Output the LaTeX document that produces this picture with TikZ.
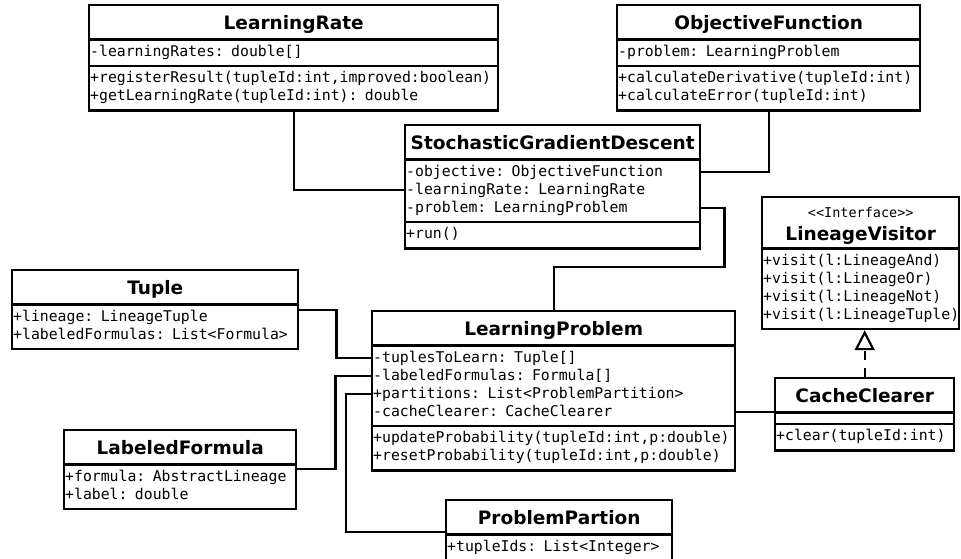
\documentclass[tikz,border=0pt]{standalone}
\usepackage{fontspec}
\setmainfont{DejaVu Sans}
\setmonofont{DejaVu Sans Mono}
\usetikzlibrary{arrows.meta,shapes.multipart,calc}
\newcommand{\membfont}{\fontsize{14.8}{18}\selectfont\ttfamily}
\newcommand{\titlefont}{\fontsize{18.5}{22}\selectfont\rmfamily\bfseries}
\newcommand{\classname}[1]{\hbox to\hsize{\hfil\rule[-6pt]{0pt}{26pt}\titlefont #1\hfil}}
\newcommand{\members}[1]{\strut#1\strut}
\tikzset{
  umlclass/.style={rectangle split,rectangle split parts=#1,draw,line width=2.4pt,
                   fill=white,anchor=north west,align=left,font=\membfont,
                   inner xsep=1pt,inner ysep=3pt},
  umlclass/.default=3,
  assoc/.style={line width=2.2pt},
  realize/.style={line width=2.2pt,dash pattern=on 9pt off 8pt,
                  -{Triangle[open,length=20pt,width=20pt]}}
}

\begin{document}
\begin{tikzpicture}[x=1pt,y=-1pt]
  \useasboundingbox (0,0) rectangle (961,559);

  \node[umlclass,text width=407pt] (rate) at (88,4)
    {\classname{LearningRate}
     \nodepart{two}\members{-learningRates: double[]}
     \nodepart{three}\members{+registerResult(tupleId:int,improved:boolean)\\+getLearningRate(tupleId:int): double}};
  \node[umlclass,text width=301pt] (objective) at (616,4)
    {\classname{ObjectiveFunction}
     \nodepart{two}\members{-problem: LearningProblem}
     \nodepart{three}\members{+calculateDerivative(tupleId:int)\\+calculateError(tupleId:int)}};
  \node[umlclass,text width=293pt] (sgd) at (404,124)
    {\classname{StochasticGradientDescent}
     \nodepart{two}\members{-objective: ObjectiveFunction\\-learningRate: LearningRate\\-problem: LearningProblem}
     \nodepart{three}\members{+run()}};
  \node[umlclass=2,text width=195pt] (visitor) at (761,196)
    {\hbox to\hsize{\hfil\rule[-3pt]{0pt}{19pt}\fontsize{13.5}{16}\selectfont <\kern0pt<Interface>\kern0pt>\hfil}\par\nointerlineskip
     \hbox to\hsize{\hfil\rule[-4pt]{0pt}{24pt}\titlefont LineageVisitor\hfil}
     \nodepart{two}\members{+visit(l:LineageAnd)\\+visit(l:LineageOr)\\+visit(l:LineageNot)\\+visit(l:LineageTuple)}};
  \node[umlclass,text width=177pt] (clearer) at (774,377)
    {\classname{CacheClearer}
     \nodepart{two}\rule{0pt}{3pt}
     \nodepart{three}\members{+clear(tupleId:int)}};
  \node[umlclass=2,text width=284pt] (tuple) at (11,269)
    {\classname{Tuple}
     \nodepart{two}\members{+lineage: LineageTuple\\+labeledFormulas: List<Formula>}};
  \node[umlclass,text width=361pt] (problem) at (371,310)
    {\classname{LearningProblem}
     \nodepart{two}\members{-tuplesToLearn: Tuple[]\\-labeledFormulas: Formula[]\\+partitions: List<ProblemPartition>\\-cacheClearer: CacheClearer}
     \nodepart{three}\members{+updateProbability(tupleId:int,p:double)\\+resetProbability(tupleId:int,p:double)}};
  \node[umlclass=2,text width=230pt] (formula) at (63,429)
    {\classname{LabeledFormula}
     \nodepart{two}\members{+formula: AbstractLineage\\+label: double}};
  \node[umlclass=2,text width=224pt] (partition) at (445,499)
    {\classname{ProblemPartion}
     \nodepart{two}\members{+tupleIds: List<Integer>}};

  % associations
  \draw[assoc] (rate.south) |- ([yshift=-30pt]sgd.one split west);
  \draw[assoc] (objective.south) |- ([yshift=-12pt]sgd.one split east);
  \draw[assoc] ([yshift=-48pt]sgd.one split east) -| ($(sgd.south east)+(23,17)$) -| (problem.north);
  \draw[assoc] ([yshift=-5pt]tuple.one split east) -- ++(37,0) |- ([yshift=-12pt]problem.one split west);
  \draw[assoc] ([yshift=-4pt]formula.one split east) -- ++(38,0) |- ([yshift=-30pt]problem.one split west);
  \draw[assoc] ([yshift=3pt]partition.one split west) -- ++(-99,0) |- ([yshift=-48pt]problem.one split west);
  \draw[assoc] ([yshift=-66pt]problem.one split east) -- ([yshift=1pt]clearer.one split west);

  % interface
  \draw[realize] (clearer.north) -- (clearer.north |- visitor.south);
\end{tikzpicture}
\end{document}
